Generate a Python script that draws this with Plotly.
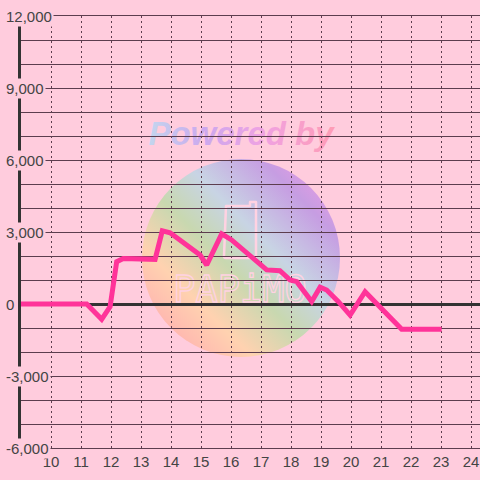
import base64

import plotly.graph_objects as go

# ----------------------------------
# Data
# ----------------------------------
hours = [9.0, 11.19, 11.69, 11.97, 12.19, 12.41, 13.47, 13.71, 13.97, 14.97,
         15.19, 15.69, 16.02, 17.19, 17.63, 17.97, 18.19, 18.69, 18.97, 19.19,
         19.58, 19.97, 20.47, 20.8, 21.13, 21.69, 23.02]
values = [0, 0, -640, -110, 1760, 1900, 1860, 3050, 2970, 2040,
          1625, 2920, 2670, 1420, 1390, 1000, 930, 100, 700, 580,
          100, -460, 510, 100, -320, -1050, -1050]

x_ticks = list(range(10, 25))
y_labels = [12000, 9000, 6000, 3000, 0, -3000, -6000]

BG = "#ffccdd"
GRID = "#5c3d4e"
AXIS = "#333333"
TEXT = "#444444"

W, H = 480, 480
L, R, T, B = 21, 0, 16, 32
plot_w = W - L - R
plot_h = H - T - B

# ----------------------------------
# Watermark (svg image)
# ----------------------------------
svg = f"""<svg xmlns="http://www.w3.org/2000/svg" width="{W}" height="{H}" viewBox="0 0 {W} {H}">
<defs>
<linearGradient id="c" x1="0" y1="1" x2="1" y2="0">
<stop offset="0" stop-color="#ff9db0"/>
<stop offset="0.28" stop-color="#ffd2b0"/>
<stop offset="0.45" stop-color="#c8d8b0"/>
<stop offset="0.6" stop-color="#c8d4e4"/>
<stop offset="0.8" stop-color="#c69de2"/>
<stop offset="1" stop-color="#ff9be6"/>
</linearGradient>
<linearGradient id="t" x1="0" y1="0" x2="1" y2="0">
<stop offset="0" stop-color="#c2d6ee"/>
<stop offset="0.3" stop-color="#cca8ee"/>
<stop offset="0.62" stop-color="#f0a2e2"/>
<stop offset="1" stop-color="#ff9cb4"/>
</linearGradient>
</defs>
<circle cx="241" cy="258" r="99" fill="url(#c)"/>
<text x="241" y="145" text-anchor="middle" font-family="Liberation Sans" font-weight="bold"
 font-style="italic" font-size="33" fill="url(#t)">Powered by</text>
<path d="M226 206 h24 v-4 h6 v54 q0 2 -2 2 h-28 q-2 0 -2 -2 z" fill="none" stroke="#ffd2e2"
 stroke-width="2.5" stroke-linejoin="round"/>
<text x="240" y="302" text-anchor="middle" font-family="DejaVu Sans Mono" font-size="37"
 fill="none" stroke="#ffd2e2" stroke-width="1.3">PAPiMO</text>
</svg>"""
svg_uri = "data:image/svg+xml;base64," + base64.b64encode(svg.encode()).decode()

# ----------------------------------
# Figure
# ----------------------------------
fig = go.Figure()

fig.add_trace(
    go.Scatter(
        x=hours,
        y=values,
        mode="lines",
        line=dict(color="#ff3399", width=5),
        hoverinfo="skip",
        showlegend=False
    )
)

fig.add_layout_image(
    dict(
        source=svg_uri,
        xref="paper",
        yref="paper",
        x=-L / plot_w,
        y=1 + T / plot_h,
        sizex=W / plot_w,
        sizey=H / plot_h,
        xanchor="left",
        yanchor="top",
        sizing="stretch",
        layer="below"
    )
)

for v in y_labels:
    fig.add_annotation(
        x=0,
        xref="paper",
        y=v,
        yref="y",
        xanchor="left",
        yanchor="middle",
        xshift=-17,
        text=f"{v:,}",
        showarrow=False,
        bgcolor=BG,
        font=dict(family="Liberation Sans", size=15, color=TEXT)
    )

fig.update_xaxes(
    range=[9, 9 + plot_w / 30],
    tickvals=x_ticks,
    ticktext=[str(t) for t in x_ticks],
    showgrid=True,
    gridcolor=GRID,
    gridwidth=1,
    griddash="2px,3px",
    zeroline=False,
    showline=True,
    linecolor=GRID,
    linewidth=1,
    mirror=True,
    ticks="",
    tickfont=dict(family="Liberation Sans", size=15, color=TEXT),
    fixedrange=True
)

fig.update_yaxes(
    range=[-6000, 12000],
    dtick=1000,
    tick0=0,
    showgrid=True,
    gridcolor=GRID,
    gridwidth=1,
    zeroline=True,
    zerolinecolor=AXIS,
    zerolinewidth=3,
    showline=True,
    linecolor=AXIS,
    linewidth=3,
    showticklabels=False,
    ticks="",
    fixedrange=True
)

fig.update_layout(
    width=W,
    height=H,
    margin=dict(l=L, r=R, t=T, b=B, pad=0),
    paper_bgcolor=BG,
    plot_bgcolor="rgba(0,0,0,0)",
    showlegend=False
)

# drop the default page margin so the figure sits at the window corner
fig.write_html(
    "out.html",
    config={"displayModeBar": False},
    post_script="document.body.style.margin='0';document.body.style.overflow='hidden';"
)
